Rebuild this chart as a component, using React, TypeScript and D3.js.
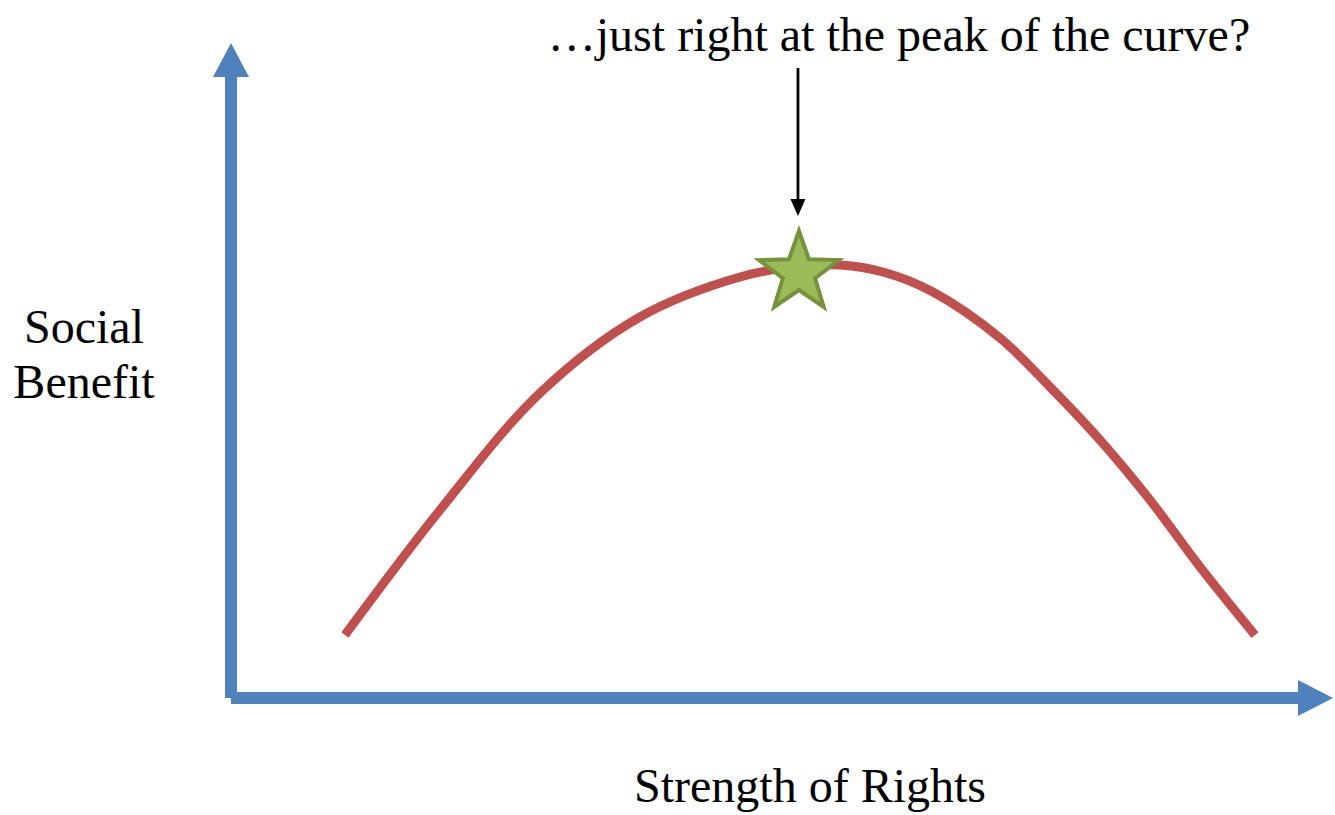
import React from "react";
import * as d3 from "d3";

const strength = [10.68, 19.59, 28.96, 38.33, 47.7, 53.33, 57.08, 61.11, 65.79, 72.07, 76.76, 81.44, 86.13, 90.82, 95.97];
const benefit = [10.14, 30.27, 49.11, 61.35, 67.79, 69.57, 69.73, 68.6, 65.38, 57.97, 50.08, 41.55, 31.88, 21.1, 10.14];
const peak = { x: 53.23, y: 68.44 };
const title = "…just right at the peak of the curve?";
const xLabel = "Strength of Rights";
const yLabel = ["Social", "Benefit"];

const W = 1335;
const H = 815;
const AXIS = "#4F81BD";
const CURVE = "#C0504D";
const FONT = "'Liberation Serif', 'Times New Roman', serif";

function starPath(cx: number, cy: number, R: number, r: number) {
  const pts: [number, number][] = [];
  for (let i = 0; i < 10; i++) {
    const rad = i % 2 === 0 ? R : r;
    const a = -Math.PI / 2 + (i * Math.PI) / 5;
    pts.push([cx + rad * Math.cos(a), cy + rad * Math.sin(a)]);
  }
  return "M" + pts.map((p) => p.join(",")).join("L") + "Z";
}

export default function App() {
  const x = d3.scaleLinear().domain([0, 100]).range([231, 1298]);
  const y = d3.scaleLinear().domain([0, 100]).range([698, 77]);
  const data = strength.map((s, i) => [s, benefit[i]] as [number, number]);
  const line = d3
    .line<[number, number]>()
    .x((d) => x(d[0]))
    .y((d) => y(d[1]))
    .curve(d3.curveCatmullRom.alpha(0.5));

  const x0 = x(0);
  const y0 = y(0);
  const yTop = y(100);
  const xEnd = x(100);
  const sx = x(peak.x);
  const sy = y(peak.y);

  return (
    <svg
      width={W}
      height={H}
      style={{ position: "absolute", left: 0, top: 0, display: "block", background: "#fff" }}
    >
      {/* axes */}
      <line x1={x0} y1={y0} x2={x0} y2={yTop} stroke={AXIS} strokeWidth={12} />
      <path d={`M${x0 - 18},${yTop} L${x0},${yTop - 34} L${x0 + 18},${yTop} Z`} fill={AXIS} />
      <line x1={x0} y1={y0} x2={xEnd} y2={y0} stroke={AXIS} strokeWidth={12} />
      <path d={`M${xEnd},${y0 - 18} L${xEnd + 35},${y0} L${xEnd},${y0 + 18} Z`} fill={AXIS} />

      {/* curve */}
      <path d={line(data) || ""} fill="none" stroke={CURVE} strokeWidth={9} />

      {/* star */}
      <path d={starPath(sx, sy, 42, 17)} fill="#9BBB59" stroke="#76923C" strokeWidth={4} strokeLinejoin="miter" />

      {/* annotation arrow */}
      <line x1={sx - 1} y1={68} x2={sx - 1} y2={202} stroke="#000" strokeWidth={2.8} />
      <path d={`M${sx - 8.5},${199} L${sx - 1},${216} L${sx + 6.5},${199} Z`} fill="#000" />

      {/* texts */}
      <text x={899} y={51} textAnchor="middle" fontFamily={FONT} fontSize={48} fill="#000">
        {title}
      </text>
      <text x={810} y={802} textAnchor="middle" fontFamily={FONT} fontSize={48} fill="#000">
        {xLabel}
      </text>
      <text x={84} y={343} textAnchor="middle" fontFamily={FONT} fontSize={48} fill="#000">
        {yLabel[0]}
      </text>
      <text x={84} y={398} textAnchor="middle" fontFamily={FONT} fontSize={48} fill="#000">
        {yLabel[1]}
      </text>
    </svg>
  );
}
